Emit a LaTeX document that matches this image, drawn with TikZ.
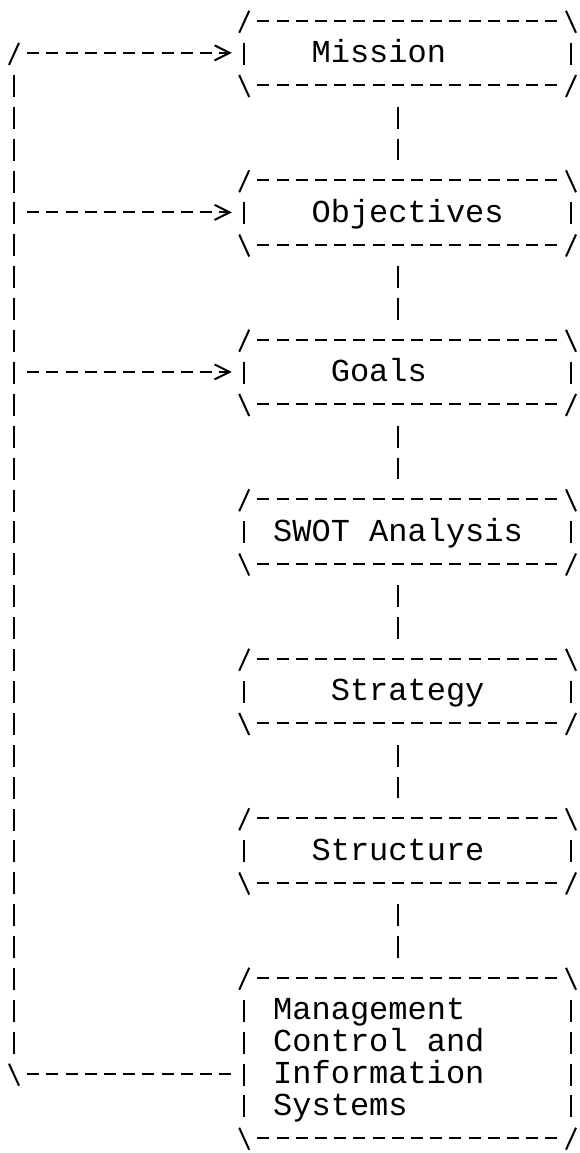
\documentclass[tikz,border=0pt]{standalone}
\usepackage{fontspec}
\setmonofont{Liberation Mono}
\usetikzlibrary{arrows.meta}
\tikzset{
  glyph/.style={line width=2pt, line cap=butt, black},
  hdash/.style={glyph, dash pattern=on 12pt off 7.2pt},
  vbars/.style={glyph, dash pattern=on 22pt off 9.9pt, shorten <=21.9pt, shorten >=19.9pt},
  feedtip/.style={-{Straight Barb[length=15pt,width=15pt]}},
  asciibox/.style={rectangle, inner sep=0pt, minimum width=326.4pt, text width=326.4pt,
    align=left, font=\ttfamily\fontsize{32}{31.9}\selectfont,
    execute at begin node={\spaceskip=19.2pt\relax}},
  onerow/.style={asciibox, minimum height=63.8pt, text height=28pt, text depth=8pt},
  fiverow/.style={asciibox, minimum height=159.5pt},
}
\newcommand\asciiframe[1]{%
  \draw[hdash] ([xshift=13.2pt]#1.north west) -- ([xshift=-13.2pt]#1.north east);
  \draw[hdash] ([xshift=13.2pt]#1.south west) -- ([xshift=-13.2pt]#1.south east);
  \draw[vbars] (#1.north west) -- (#1.south west);
  \draw[vbars] (#1.north east) -- (#1.south east);
  \draw[glyph] ([shift={(-5pt,-12pt)}]#1.north west) -- ([shift={(5pt,10pt)}]#1.north west);
  \draw[glyph] ([shift={(-5pt,10pt)}]#1.north east) -- ([shift={(5pt,-12pt)}]#1.north east);
  \draw[glyph] ([shift={(-5pt,10pt)}]#1.south west) -- ([shift={(5pt,-12pt)}]#1.south west);
  \draw[glyph] ([shift={(-5pt,-12pt)}]#1.south east) -- ([shift={(5pt,10pt)}]#1.south east);
}
\begin{document}
\begin{tikzpicture}[x=1pt, y=-1pt]
  \useasboundingbox (0,0) rectangle (579,1153);
  \fill[white] (0,0) rectangle (579,1153);

  % boxes
  \node[onerow] (m1) at (407.6,52.9)  {\hspace*{67.2pt}Mission};
  \node[onerow] (m2) at (407.6,212.4) {\hspace*{67.2pt}Objectives};
  \node[onerow] (m3) at (407.6,371.9) {\hspace*{86.4pt}Goals};
  \node[onerow] (m4) at (407.6,531.4) {\hspace*{28.8pt}SWOT Analysis};
  \node[onerow] (m5) at (407.6,690.9) {\hspace*{86.4pt}Strategy};
  \node[onerow] (m6) at (407.6,850.4) {\hspace*{67.2pt}Structure};
  \node[fiverow] (m7) at (407.6,1057.75)
    {\rule{0pt}{28pt}\hspace*{28.8pt}Management\\
     \hspace*{28.8pt}Control and\\
     \hspace*{28.8pt}Information\\
     \hspace*{28.8pt}Systems\rule[-8pt]{0pt}{8pt}};

  \foreach \b in {m1,m2,m3,m4,m5,m6,m7} { \asciiframe{\b} }

  % vertical links between boxes
  \foreach \a/\b in {m1/m2,m2/m3,m3/m4,m4/m5,m5/m6,m6/m7}
    \draw[vbars] ([xshift=-9.6pt]\a.south) -- ([xshift=-9.6pt]\b.north);

  % feedback loop
  \coordinate (fbtop) at (14,52.9);
  \coordinate (fb6)   at (14,212.4);
  \coordinate (fb11)  at (14,371.9);
  \coordinate (fbbot) at (14,1073.7);
  \draw[glyph] ([shift={(-5pt,-12pt)}]fbtop) -- ([shift={(5pt,10pt)}]fbtop);
  \draw[vbars] (fbtop) -- (fbbot);
  \draw[glyph] ([shift={(-5pt,10pt)}]fbbot) -- ([shift={(5pt,-12pt)}]fbbot);
  \draw[hdash, feedtip, shorten <=13.2pt, shorten >=12.4pt] (fbtop) -- (m1.west);
  \draw[hdash, feedtip, shorten <=13.2pt, shorten >=12.4pt] (fb6) -- (m2.west);
  \draw[hdash, feedtip, shorten <=13.2pt, shorten >=12.4pt] (fb11) -- (m3.west);
  \draw[hdash, shorten <=13.2pt, shorten >=13.2pt] (fbbot) -- ([yshift=-15.95pt]m7.west);
\end{tikzpicture}
\end{document}
